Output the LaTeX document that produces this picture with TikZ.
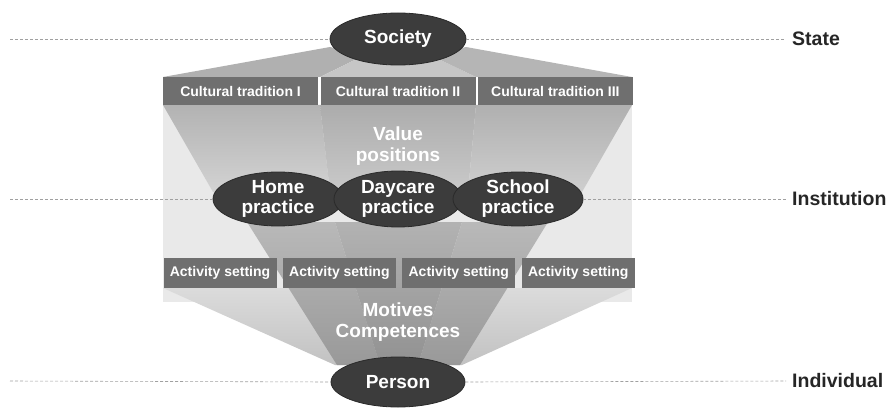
\documentclass[tikz,border=0pt]{standalone}
\usepackage{fontspec}
\setmainfont{Liberation Sans}
\usetikzlibrary{shapes.geometric}
\usetikzlibrary{positioning}
\definecolor{blobgray}{HTML}{3C3C3C}
\definecolor{blobedge}{HTML}{2A2A2A}
\definecolor{boxgray}{HTML}{6F6F6F}
\definecolor{panelgray}{HTML}{E9E9E9}
\definecolor{labelgray}{HTML}{262626}
\definecolor{guidegray}{HTML}{A0A0A0}
\begin{document}
\begin{tikzpicture}[x=1pt,y=-1pt,
		blob/.style={ellipse,fill=blobgray,draw=blobedge,line width=0.8pt,text=white,inner sep=0pt,align=center,font=\bfseries\fontsize{19}{20}\selectfont},
		trad/.style={rectangle,fill=boxgray,text=white,inner sep=0pt,minimum width=155pt,minimum height=28pt,font=\bfseries\fontsize{14}{16}\selectfont},
		act/.style={trad,minimum width=113pt,minimum height=30pt},
		level/.style={anchor=west,inner sep=0pt,text=labelgray,font=\bfseries\fontsize{19.5}{20}\selectfont},
		guide/.style={draw=guidegray,line width=0.6pt,dash pattern=on 3pt off 2pt},
		big/.style={text=white,align=center,font=\bfseries\fontsize{19}{21}\selectfont}]
		\useasboundingbox (0,0) rectangle (890,409);
		% background panel and funnels
		\fill[panelgray] (163,105) rectangle (632,302);
		\shade[top color=gray!28,bottom color=gray!48] (163,288)--(632,288)--(462,365)--(335,365)--cycle;
		\shade[top color=gray!60,bottom color=gray!35] (163,105)--(320,105)--(330,192)--(213,192)--cycle;
		\shade[top color=gray!65,bottom color=gray!42] (320,105)--(476,105)--(468,192)--(330,192)--cycle;
		\shade[top color=gray!62,bottom color=gray!38] (476,105)--(632,105)--(582,192)--(468,192)--cycle;
		\shade[top color=gray!55,bottom color=gray!80] (247,222)--(335,222)--(380,365)--(337,365)--cycle;
		\shade[top color=gray!60,bottom color=gray!86] (335,222)--(462,222)--(418,365)--(380,365)--cycle;
		\shade[top color=gray!55,bottom color=gray!80] (462,222)--(548,222)--(460,365)--(418,365)--cycle;
		\fill[gray!62] (330,47)--(365,55)--(320,77)--(163,77)--cycle;
		\fill[gray!45] (365,55)--(430,55)--(476,77)--(320,77)--cycle;
		\fill[gray!58] (430,55)--(466,47)--(632,77)--(476,77)--cycle;
		% boxes
		\node[trad] (tr2) at (398,91) {Cultural tradition II};
		\node[trad,left=2pt of tr2] (tr1) {Cultural tradition I};
		\node[trad,right=2pt of tr2] (tr3) {Cultural tradition III};
		\node[act] (as1) at (220,273) {Activity setting};
		\node[act,right=6pt of as1] (as2) {Activity setting};
		\node[act,right=6pt of as2] (as3) {Activity setting};
		\node[act,right=6pt of as3] (as4) {Activity setting};
		% ellipses
		\node[blob,minimum width=136pt,minimum height=52pt] (soc) at (398,39) {Society};
		\node[blob,minimum width=130pt,minimum height=54pt] (home) at (278,199) {Home\\practice};
		\node[blob,minimum width=128pt,minimum height=56pt] (day) at (398,199) {Daycare\\practice};
		\node[blob,minimum width=130pt,minimum height=54pt] (school) at (518,199) {School\\practice};
		\node[blob,minimum width=134pt,minimum height=50pt] (pers) at (398,382) {Person};
		\node[big] (val) at (398,146) {Value\\positions};
		\node[big] (mot) at (398,322) {Motives\\Competences};
		% levels
		\node[level] (state) at (792,39) {State};
		\node[level] (inst) at (792,199) {Institution};
		\node[level] (indiv) at (792,381) {Individual};
		\coordinate (sL) at (10,39);
		\coordinate (iL) at (10,199);
		\coordinate (pL) at (10,381);
		\draw[guide] (sL)--(soc.west);
		\draw[guide] (soc.east)--([xshift=-6pt]state.west);
		\draw[guide] (iL)--(home.west);
		\draw[guide] (school.east)--([xshift=-6pt]inst.west);
		\draw[guide] (pL)--(pers.west);
		\draw[guide] (pers.east)--([xshift=-6pt]indiv.west);
	\end{tikzpicture}
\end{document}
